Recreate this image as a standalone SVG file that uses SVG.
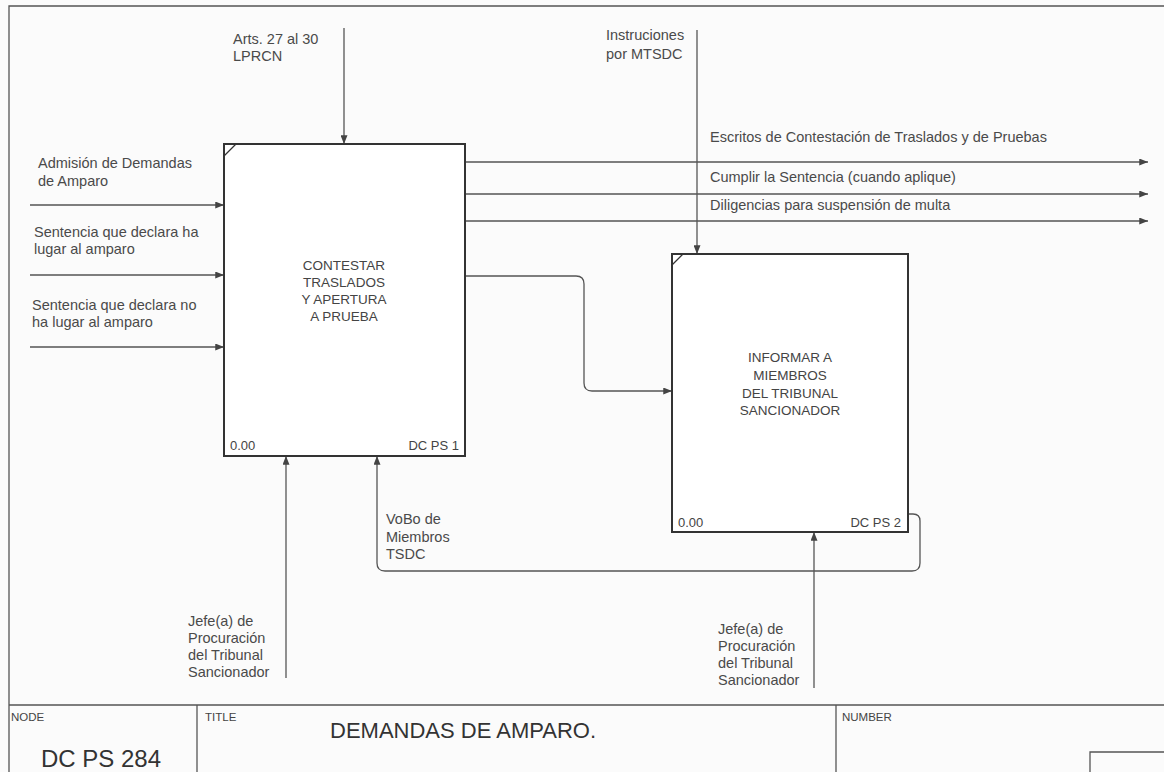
<svg xmlns="http://www.w3.org/2000/svg" width="1164" height="772" viewBox="0 0 1164 772">
<defs>
<marker id="ah" viewBox="0 0 10 8" refX="10" refY="4" markerWidth="9" markerHeight="7" markerUnits="userSpaceOnUse" orient="auto">
<path d="M0,0 L10,4 L0,8 Z" fill="#444"/>
</marker>
</defs>
<style>
.bg{fill:#fbfbfb}
.frame{fill:none;stroke:#555;stroke-width:1.3}
.box{fill:#ffffff;stroke:#333;stroke-width:2}
.corner{stroke:#333;stroke-width:1.3}
.conn{fill:none;stroke:#555;stroke-width:1.3}
.arr{marker-end:url(#ah)}
.lbl{font-family:"Liberation Sans",Arial,sans-serif;font-size:14.5px;fill:#4a4a4a}
.name{font-family:"Liberation Sans",Arial,sans-serif;font-size:13.5px;fill:#444;text-anchor:middle}
.small{font-family:"Liberation Sans",Arial,sans-serif;font-size:13px;fill:#444}
.hdr{font-family:"Liberation Sans",Arial,sans-serif;font-size:11.5px;fill:#444}
.big{font-family:"Liberation Sans",Arial,sans-serif;font-size:22px;fill:#333}
.big2{font-family:"Liberation Sans",Arial,sans-serif;font-size:24px;fill:#333}
</style>
<rect class="bg" x="0" y="0" width="1164" height="772"/>
<g id="frame">
<path class="frame" d="M9,772 L9,6 L1164,6"/>
<line class="frame" x1="9" y1="705" x2="1164" y2="705"/>
<line class="frame" x1="197" y1="705" x2="197" y2="772"/>
<line class="frame" x1="836" y1="705" x2="836" y2="772"/>
<path class="frame" d="M1090,772 L1090,752 L1164,752"/>
<text class="hdr" x="11" y="721">NODE</text>
<text class="big2" x="41" y="767">DC PS 284</text>
<text class="hdr" x="205" y="721">TITLE</text>
<text class="big" x="330" y="738">DEMANDAS DE AMPARO.</text>
<text class="hdr" x="842" y="721">NUMBER</text>
</g>
<g id="connectors">
<line class="conn arr" x1="30" y1="205" x2="224" y2="205"/>
<line class="conn arr" x1="30" y1="275" x2="224" y2="275"/>
<line class="conn arr" x1="30" y1="347" x2="224" y2="347"/>
<line class="conn arr" x1="344" y1="28" x2="344" y2="144"/>
<line class="conn arr" x1="697" y1="30" x2="697" y2="254"/>
<line class="conn arr" x1="465" y1="162" x2="1148" y2="162"/>
<line class="conn arr" x1="465" y1="194" x2="1148" y2="194"/>
<line class="conn arr" x1="465" y1="221" x2="1148" y2="221"/>
<path class="conn arr" d="M465,276 L576,276 Q584,276 584,284 L584,383 Q584,391 592,391 L672,391"/>
<path class="conn arr" d="M908,514 L913,514 Q920,514 920,521 L920,563 Q920,571 912,571 L385,571 Q377,571 377,563 L377,456"/>
<line class="conn arr" x1="286" y1="678" x2="286" y2="456"/>
<line class="conn arr" x1="814" y1="688" x2="814" y2="532"/>
<text class="lbl" x="233" y="44">Arts. 27 al 30</text>
<text class="lbl" x="233" y="61">LPRCN</text>
<text class="lbl" x="606" y="40">Instruciones</text>
<text class="lbl" x="606" y="59">por MTSDC</text>
<text class="lbl" x="38" y="168">Admisión de Demandas</text>
<text class="lbl" x="38" y="186">de Amparo</text>
<text class="lbl" x="34" y="237">Sentencia que declara ha</text>
<text class="lbl" x="34" y="254">lugar al amparo</text>
<text class="lbl" x="32" y="310">Sentencia que declara no</text>
<text class="lbl" x="32" y="327">ha lugar al amparo</text>
<text class="lbl" x="710" y="142">Escritos de Contestación de Traslados y de Pruebas</text>
<text class="lbl" x="710" y="182">Cumplir la Sentencia (cuando aplique)</text>
<text class="lbl" x="710" y="210">Diligencias para suspensión de multa</text>
<text class="lbl" x="386" y="524">VoBo de</text>
<text class="lbl" x="386" y="542">Miembros</text>
<text class="lbl" x="386" y="559">TSDC</text>
<text class="lbl" x="188" y="626">Jefe(a) de</text>
<text class="lbl" x="188" y="643">Procuración</text>
<text class="lbl" x="188" y="660">del Tribunal</text>
<text class="lbl" x="188" y="677">Sancionador</text>
<text class="lbl" x="718" y="634">Jefe(a) de</text>
<text class="lbl" x="718" y="651">Procuración</text>
<text class="lbl" x="718" y="668">del Tribunal</text>
<text class="lbl" x="718" y="685">Sancionador</text>
</g>
<g id="box1">
<rect class="box" x="224" y="144" width="241" height="312"/>
<line class="corner" x1="224" y1="156" x2="236" y2="144"/>
<text class="name" x="344" y="270">CONTESTAR</text>
<text class="name" x="344" y="287">TRASLADOS</text>
<text class="name" x="344" y="304">Y APERTURA</text>
<text class="name" x="344" y="321">A PRUEBA</text>
<text class="small" x="230" y="450">0.00</text>
<text class="small" x="459" y="450" text-anchor="end">DC PS 1</text>
</g>
<g id="box2">
<rect class="box" x="672" y="254" width="236" height="278"/>
<line class="corner" x1="672" y1="265" x2="683" y2="254"/>
<text class="name" x="790" y="362">INFORMAR A</text>
<text class="name" x="790" y="380">MIEMBROS</text>
<text class="name" x="790" y="398">DEL TRIBUNAL</text>
<text class="name" x="790" y="415">SANCIONADOR</text>
<text class="small" x="678" y="527">0.00</text>
<text class="small" x="901" y="527" text-anchor="end">DC PS 2</text>
</g>
</svg>
